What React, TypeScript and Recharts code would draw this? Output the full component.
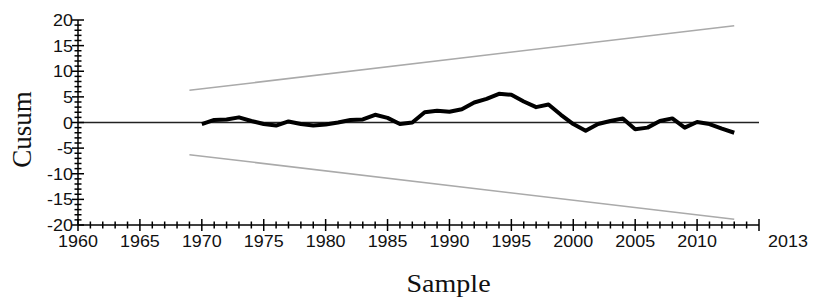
import {
  LineChart,
  Line,
  XAxis,
  YAxis,
  ReferenceLine,
} from "recharts";

const years = [
  1970, 1971, 1972, 1973, 1974, 1975, 1976, 1977, 1978, 1979, 1980, 1981,
  1982, 1983, 1984, 1985, 1986, 1987, 1988, 1989, 1990, 1991, 1992, 1993,
  1994, 1995, 1996, 1997, 1998, 1999, 2000, 2001, 2002, 2003, 2004, 2005,
  2006, 2007, 2008, 2009, 2010, 2011, 2012, 2013,
];

const cusum = [
  -0.3, 0.5, 0.6, 1.0, 0.3, -0.3, -0.6, 0.2, -0.3, -0.6, -0.4, 0.0,
  0.5, 0.6, 1.5, 0.9, -0.3, 0.0, 2.0, 2.3, 2.1, 2.6, 3.9, 4.6,
  5.6, 5.4, 4.1, 3.0, 3.5, 1.5, -0.3, -1.6, -0.3, 0.3, 0.8, -1.3,
  -1.0, 0.3, 0.8, -1.0, 0.1, -0.3, -1.2, -2.0,
];

const bandYears = [1969, 2013];
const upperBand = [6.29, 18.86];
const lowerBand = [-6.29, -18.86];

const xTicks = Array.from({ length: 56 }, (_, i) => 1960 + i);
const yTicks = Array.from({ length: 41 }, (_, i) => -20 + i);
const endLabel = "2013";

const cusumData = years.map((year, i) => ({ year, value: cusum[i] }));
const upperData = bandYears.map((year, i) => ({ year, value: upperBand[i] }));
const lowerData = bandYears.map((year, i) => ({ year, value: lowerBand[i] }));

const tickFont = "'Liberation Sans', Arial, sans-serif";
const serifFont = "'Liberation Serif', 'Times New Roman', serif";

const XTick = (props: any) => {
  const { x, y, payload } = props;
  const v = payload.value;
  const major = v % 5 === 0;
  const len = major ? 6 : 3.5;
  let label = "";
  let dx = 0;
  if (v === 2015) {
    label = endLabel;
    dx = 29;
  } else if (major) {
    label = String(v);
  }
  return (
    <g>
      <line x1={x} x2={x} y1={y - len} y2={y + len} stroke="#000" strokeWidth={1.5} />
      {label && (
        <text
          transform={`translate(${x + dx},${y + 22}) scale(1.12,1)`}
          textAnchor="middle"
          fontFamily={tickFont}
          fontSize={16}
          fill="#111"
        >
          {label}
        </text>
      )}
    </g>
  );
};

const YTick = (props: any) => {
  const { x, y, payload } = props;
  const v = payload.value;
  const major = v % 5 === 0;
  const len = major ? 6 : 3.5;
  return (
    <g>
      <line x1={x - len} x2={x + len} y1={y} y2={y} stroke="#000" strokeWidth={1.5} />
      {major && (
        <text
          transform={`translate(${x - 5},${y + 6}) scale(1.12,1)`}
          textAnchor="end"
          fontFamily={tickFont}
          fontSize={16}
          fill="#111"
        >
          {v}
        </text>
      )}
    </g>
  );
};

const CusumLabel = (props: any) => {
  const { viewBox } = props;
  const cx = viewBox.x + 31;
  const cy = viewBox.y + viewBox.height / 2 + 7;
  return (
    <text
      x={cx}
      y={cy}
      transform={`rotate(-90, ${cx}, ${cy})`}
      textAnchor="middle"
      fontFamily={serifFont}
      fontSize={27}
      fill="#111"
    >
      Cusum
    </text>
  );
};

const SampleLabel = (props: any) => {
  const { viewBox } = props;
  const cx = viewBox.x + viewBox.width / 2 + 30;
  const cy = viewBox.y + 67;
  return (
    <text
      transform={`translate(${cx},${cy}) scale(1.08,1)`}
      textAnchor="middle"
      fontFamily={serifFont}
      fontSize={26}
      fill="#111"
    >
      Sample
    </text>
  );
};

export default function App() {
  return (
    <div style={{ position: "absolute", left: 0, top: 0, background: "#fff" }}>
      <LineChart
        width={813}
        height={299}
        margin={{ top: 20, right: 54, left: 0, bottom: 0 }}
      >
        <XAxis
          type="number"
          dataKey="year"
          domain={[1960, 2015]}
          ticks={xTicks}
          interval={0}
          tickSize={0}
          tickMargin={0}
          tickLine={false}
          tick={<XTick />}
          axisLine={{ stroke: "#000", strokeWidth: 1.5 }}
          height={74}
          allowDataOverflow
          label={<SampleLabel />}
        />
        <YAxis
          type="number"
          domain={[-20, 20]}
          ticks={yTicks}
          interval={0}
          tickSize={0}
          tickMargin={0}
          tickLine={false}
          tick={<YTick />}
          axisLine={{ stroke: "#000", strokeWidth: 1.5 }}
          width={78}
          allowDataOverflow
          label={<CusumLabel />}
        />
        <ReferenceLine y={0} stroke="#222" strokeWidth={1.5} />
        <Line
          data={upperData}
          dataKey="value"
          type="linear"
          stroke="#aaaaaa"
          strokeWidth={1.5}
          dot={false}
          isAnimationActive={false}
        />
        <Line
          data={lowerData}
          dataKey="value"
          type="linear"
          stroke="#aaaaaa"
          strokeWidth={1.5}
          dot={false}
          isAnimationActive={false}
        />
        <Line
          data={cusumData}
          dataKey="value"
          type="linear"
          stroke="#000"
          strokeWidth={4}
          strokeLinejoin="round"
          dot={false}
          isAnimationActive={false}
        />
      </LineChart>
    </div>
  );
}
